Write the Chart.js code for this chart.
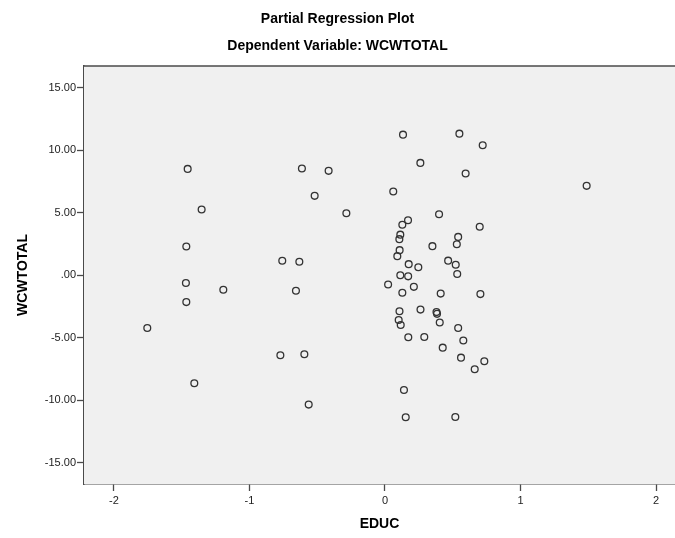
<!DOCTYPE html>
<html>
<head>
<meta charset="utf-8">
<script src="https://cdn.jsdelivr.net/npm/chart.js@4/dist/chart.umd.min.js"></script>
<style>
    html, body { margin: 0; padding: 0; background: #ffffff; }
    #wrap { width: 675px; height: 538px; position: relative; }
</style>
</head>
<body>
<div id="wrap"><canvas id="plot"></canvas></div>
<script>
// partial residuals
var educ = [
    -1.456, -1.353, -1.466, -0.613, -0.416, -0.519, -0.285, -0.758, -0.632,
    -1.469, -1.193, -0.657, -1.466, -1.754, -0.772, -0.595, -1.407, -0.563,
    0.133, 0.549, 0.721, 0.261, 0.595, 0.061, 1.488, 0.399, 0.170, 0.128,
    0.699, 0.113, 0.106, 0.540, 0.350, 0.530, 0.108, 0.091, 0.175, 0.246,
    0.466, 0.522, 0.533, 0.113, 0.171, 0.023, 0.213, 0.128, 0.411, 0.704,
    0.107, 0.262, 0.380, 0.384, 0.101, 0.116, 0.404, 0.540, 0.172, 0.290,
    0.578, 0.426, 0.561, 0.733, 0.662, 0.140, 0.153, 0.519
];
var wcwtotal = [
    8.52, 5.27, 2.30, 8.55, 8.36, 6.36, 4.97, 1.16, 1.08,
    -0.62, -1.16, -1.24, -2.15, -4.23, -6.41, -6.33, -8.65, -10.36,
    11.26, 11.34, 10.41, 9.00, 8.15, 6.71, 7.16, 4.89, 4.41, 4.04,
    3.89, 3.25, 2.89, 3.07, 2.33, 2.48, 2.01, 1.53, 0.89, 0.64,
    1.17, 0.84, 0.10, 0.00, -0.09, -0.74, -0.93, -1.40, -1.47, -1.51,
    -2.88, -2.75, -2.95, -3.09, -3.58, -3.98, -3.79, -4.22, -4.96, -4.94,
    -5.23, -5.80, -6.60, -6.89, -7.53, -9.19, -11.37, -11.35
];
var xTicks = [-2, -1, 0, 1, 2];
var yTicks = [-15, -10, -5, 0, 5, 10, 15];

var fontFamily = "'Liberation Sans', Arial, sans-serif";
var axisColor = '#4a4a4a';

var points = educ.map(function (x, i) {
    return { x: x, y: wcwtotal[i] };
});

function yLabel(value) {
    if (value === 0) {
        return '.00';
    }
    return value.toFixed(2);
}

var plotFrame = {
    id: 'plotFrame',
    beforeDatasetsDraw: function (chart) {
        var a = chart.chartArea;
        var ctx = chart.ctx;
        ctx.save();
        ctx.fillStyle = '#f0f0f0';
        ctx.fillRect(a.left, a.top, a.right - a.left, a.bottom - a.top);
        ctx.strokeStyle = axisColor;
        ctx.lineWidth = 1.5;
        ctx.beginPath();
        ctx.moveTo(a.left, a.top);
        ctx.lineTo(a.right, a.top);
        ctx.stroke();
        ctx.restore();
    }
};

Chart.defaults.font.family = fontFamily;
Chart.defaults.color = '#222222';

new Chart(document.getElementById('plot'), {
    type: 'scatter',
    data: {
        datasets: [{
            data: points,
            pointStyle: 'circle',
            pointRadius: 3.4,
            pointHoverRadius: 3.4,
            borderWidth: 1.3,
            borderColor: '#333333',
            backgroundColor: 'rgba(0, 0, 0, 0)'
        }]
    },
    options: {
        responsive: true,
        maintainAspectRatio: false,
        animation: false,
        layout: { autoPadding: false, padding: 0 },
        plugins: {
            legend: { display: false },
            tooltip: { enabled: false },
            title: {
                display: true,
                text: 'Partial Regression Plot',
                color: '#000000',
                font: { size: 14, weight: 'bold' },
                padding: { top: 11, bottom: 0 }
            },
            subtitle: {
                display: true,
                text: 'Dependent Variable: WCWTOTAL',
                color: '#000000',
                font: { size: 14, weight: 'bold' },
                padding: { top: 9.8, bottom: 11.6 }
            }
        },
        scales: {
            x: {
                type: 'linear',
                min: -2.221,
                max: 2.14,
                afterBuildTicks: function (scale) {
                    scale.ticks = xTicks.map(function (v) { return { value: v }; });
                },
                afterFit: function (scale) {
                    scale.height = 54;
                },
                ticks: {
                    font: { size: 11 },
                    padding: 3,
                    maxRotation: 0,
                    callback: function (value) { return String(value); }
                },
                grid: {
                    drawOnChartArea: false,
                    drawTicks: true,
                    tickLength: 7,
                    tickWidth: 1.3,
                    tickColor: axisColor
                },
                border: { display: true, color: axisColor, width: 1.5 },
                title: {
                    display: true,
                    text: 'EDUC',
                    color: '#000000',
                    font: { size: 14, weight: 'bold' },
                    padding: { top: 0, bottom: 5.6 }
                }
            },
            y: {
                type: 'linear',
                min: -16.72,
                max: 16.76,
                afterBuildTicks: function (scale) {
                    scale.ticks = yTicks.map(function (v) { return { value: v }; });
                },
                afterFit: function (scale) {
                    scale.width = 84;
                },
                ticks: {
                    font: { size: 11 },
                    padding: 1,
                    callback: function (value) { return yLabel(value); }
                },
                grid: {
                    drawOnChartArea: false,
                    drawTicks: true,
                    tickLength: 7,
                    tickWidth: 1.3,
                    tickColor: axisColor
                },
                border: { display: true, color: axisColor, width: 1.5 },
                title: {
                    display: true,
                    text: 'WCWTOTAL',
                    color: '#000000',
                    font: { size: 14, weight: 'bold' },
                    padding: { top: 15, bottom: 0 }
                }
            }
        }
    },
    plugins: [plotFrame]
});
</script>
</body>
</html>
